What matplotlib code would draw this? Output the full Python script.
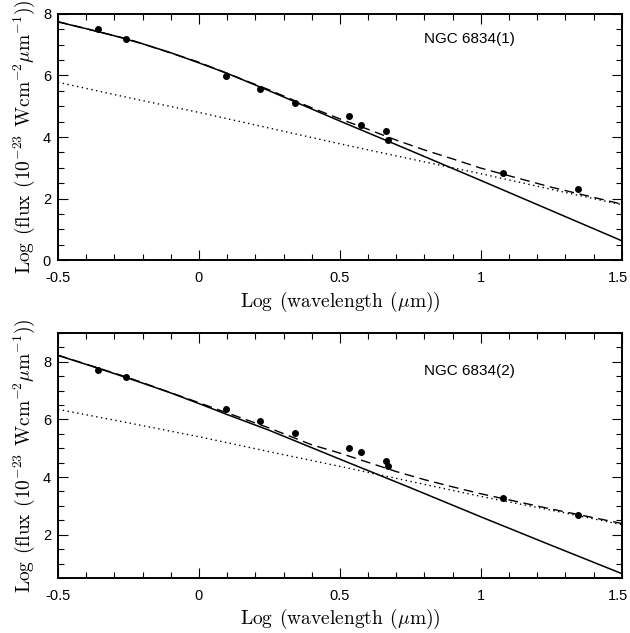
import matplotlib
matplotlib.use("Agg")
import matplotlib.pyplot as plt
import matplotlib.transforms as mtrans
from matplotlib.ticker import MultipleLocator, FuncFormatter

plt.rcParams["font.family"] = ["Liberation Sans", "DejaVu Sans"]
plt.rcParams["mathtext.fontset"] = "cm"

# observed photometry (log wavelength, log flux)
obs_x = [-0.358, -0.260, 0.097, 0.216, 0.340, 0.532, 0.574, 0.663, 0.672, 1.079, 1.343]
obs1_y = [7.50, 7.20, 5.98, 5.57, 5.12, 4.69, 4.39, 4.21, 3.91, 2.84, 2.31]
obs2_y = [7.73, 7.47, 6.36, 5.96, 5.54, 5.01, 4.86, 4.55, 4.39, 3.28, 2.68]

# model curves
star_x = [-0.5, -0.4, -0.3, -0.2, -0.1, 0.0, 0.1, 0.25, 0.5, 0.75, 1.0, 1.25, 1.5]
star1_y = [7.74, 7.52, 7.29, 7.03, 6.74, 6.41, 6.07, 5.50, 4.52, 3.56, 2.59, 1.61, 0.63]
star2_y = [8.22, 7.91, 7.59, 7.26, 6.92, 6.55, 6.17, 5.62, 4.62, 3.63, 2.62, 1.63, 0.65]

dust_x = [-0.5, -0.25, 0.0, 0.25, 0.5, 0.75, 1.0, 1.25, 1.5]
dust1_y = [5.78, 5.28, 4.80, 4.29, 3.78, 3.29, 2.81, 2.30, 1.80]
dust2_y = [6.35, 5.88, 5.40, 4.88, 4.37, 3.85, 3.33, 2.85, 2.35]

total_x = [-0.5, -0.25, 0.0, 0.25, 0.4, 0.5, 0.6, 0.7, 0.8, 0.9, 1.0, 1.25, 1.5]
total1_y = [7.75, 7.18, 6.43, 5.53, 4.95, 4.59, 4.25, 3.90, 3.58, 3.29, 2.99, 2.37, 1.82]
total2_y = [8.23, 7.45, 6.58, 5.70, 5.12, 4.83, 4.51, 4.19, 3.91, 3.66, 3.42, 2.89, 2.39]

labels = ["NGC 6834(1)", "NGC 6834(2)"]
ylims = [(0, 8), (0.5, 9)]
label_y = [7.2, 7.69]

fig = plt.figure(figsize=(6.3, 6.33), dpi=100)
ax1 = fig.add_axes([0.092, 0.589, 0.895, 0.389])
ax2 = fig.add_axes([0.092, 0.087, 0.895, 0.387])

fmt = FuncFormatter(lambda v, p: ("%g" % v))

for ax, sy, dy, ty, oy, lab, yl, ly in zip(
    (ax1, ax2), (star1_y, star2_y), (dust1_y, dust2_y), (total1_y, total2_y),
    (obs1_y, obs2_y), labels, ylims, label_y
):
    ax.plot(star_x, sy, "k-", lw=1.1)
    ax.plot(dust_x, dy, "k", ls=(0, (1, 2.5)), lw=1.0)
    ax.plot(total_x, ty, "k", ls=(0, (7, 4)), lw=1.0)
    ax.plot(obs_x, oy, "ko", ms=4)
    ax.text(0.96, ly, lab, ha="center", va="center", fontsize=11)
    ax.set_xlim(-0.5, 1.5)
    ax.set_ylim(*yl)
    ax.xaxis.set_major_locator(MultipleLocator(0.5))
    ax.xaxis.set_minor_locator(MultipleLocator(0.1))
    ax.yaxis.set_major_locator(MultipleLocator(2))
    ax.yaxis.set_minor_locator(MultipleLocator(0.5))
    ax.xaxis.set_major_formatter(fmt)
    ax.yaxis.set_major_formatter(fmt)
    ax.tick_params(which="both", direction="in", top=True, right=True,
                   labelsize=10.5, width=0.8)
    ax.tick_params(which="major", length=7)
    ax.tick_params(which="minor", length=4)
    ax.tick_params(axis="x", pad=8)
    ax.tick_params(axis="y", pad=5)
    for s in ax.spines.values():
        s.set_linewidth(1.4)
    ax.set_xlabel(r"$\mathrm{Log\;\,(wavelength\;\,(}\mu\mathrm{m))}$", fontsize=14, labelpad=3)
    ax.set_ylabel(r"$\mathrm{Log\;\,(flux\;\,(10^{-23}\;\,Wcm^{-2}}\mu\mathrm{m^{-1}))}$",
                  fontsize=14, labelpad=4)

# nudge the right-most tick label so it stays inside the figure
fig.canvas.draw()
shift = mtrans.ScaledTranslation(-4 / 100, 0, fig.dpi_scale_trans)
for ax in (ax1, ax2):
    for t in ax.get_xticklabels():
        if t.get_text() == "1.5":
            t.set_transform(t.get_transform() + shift)

fig.savefig("out.png", dpi=100)
